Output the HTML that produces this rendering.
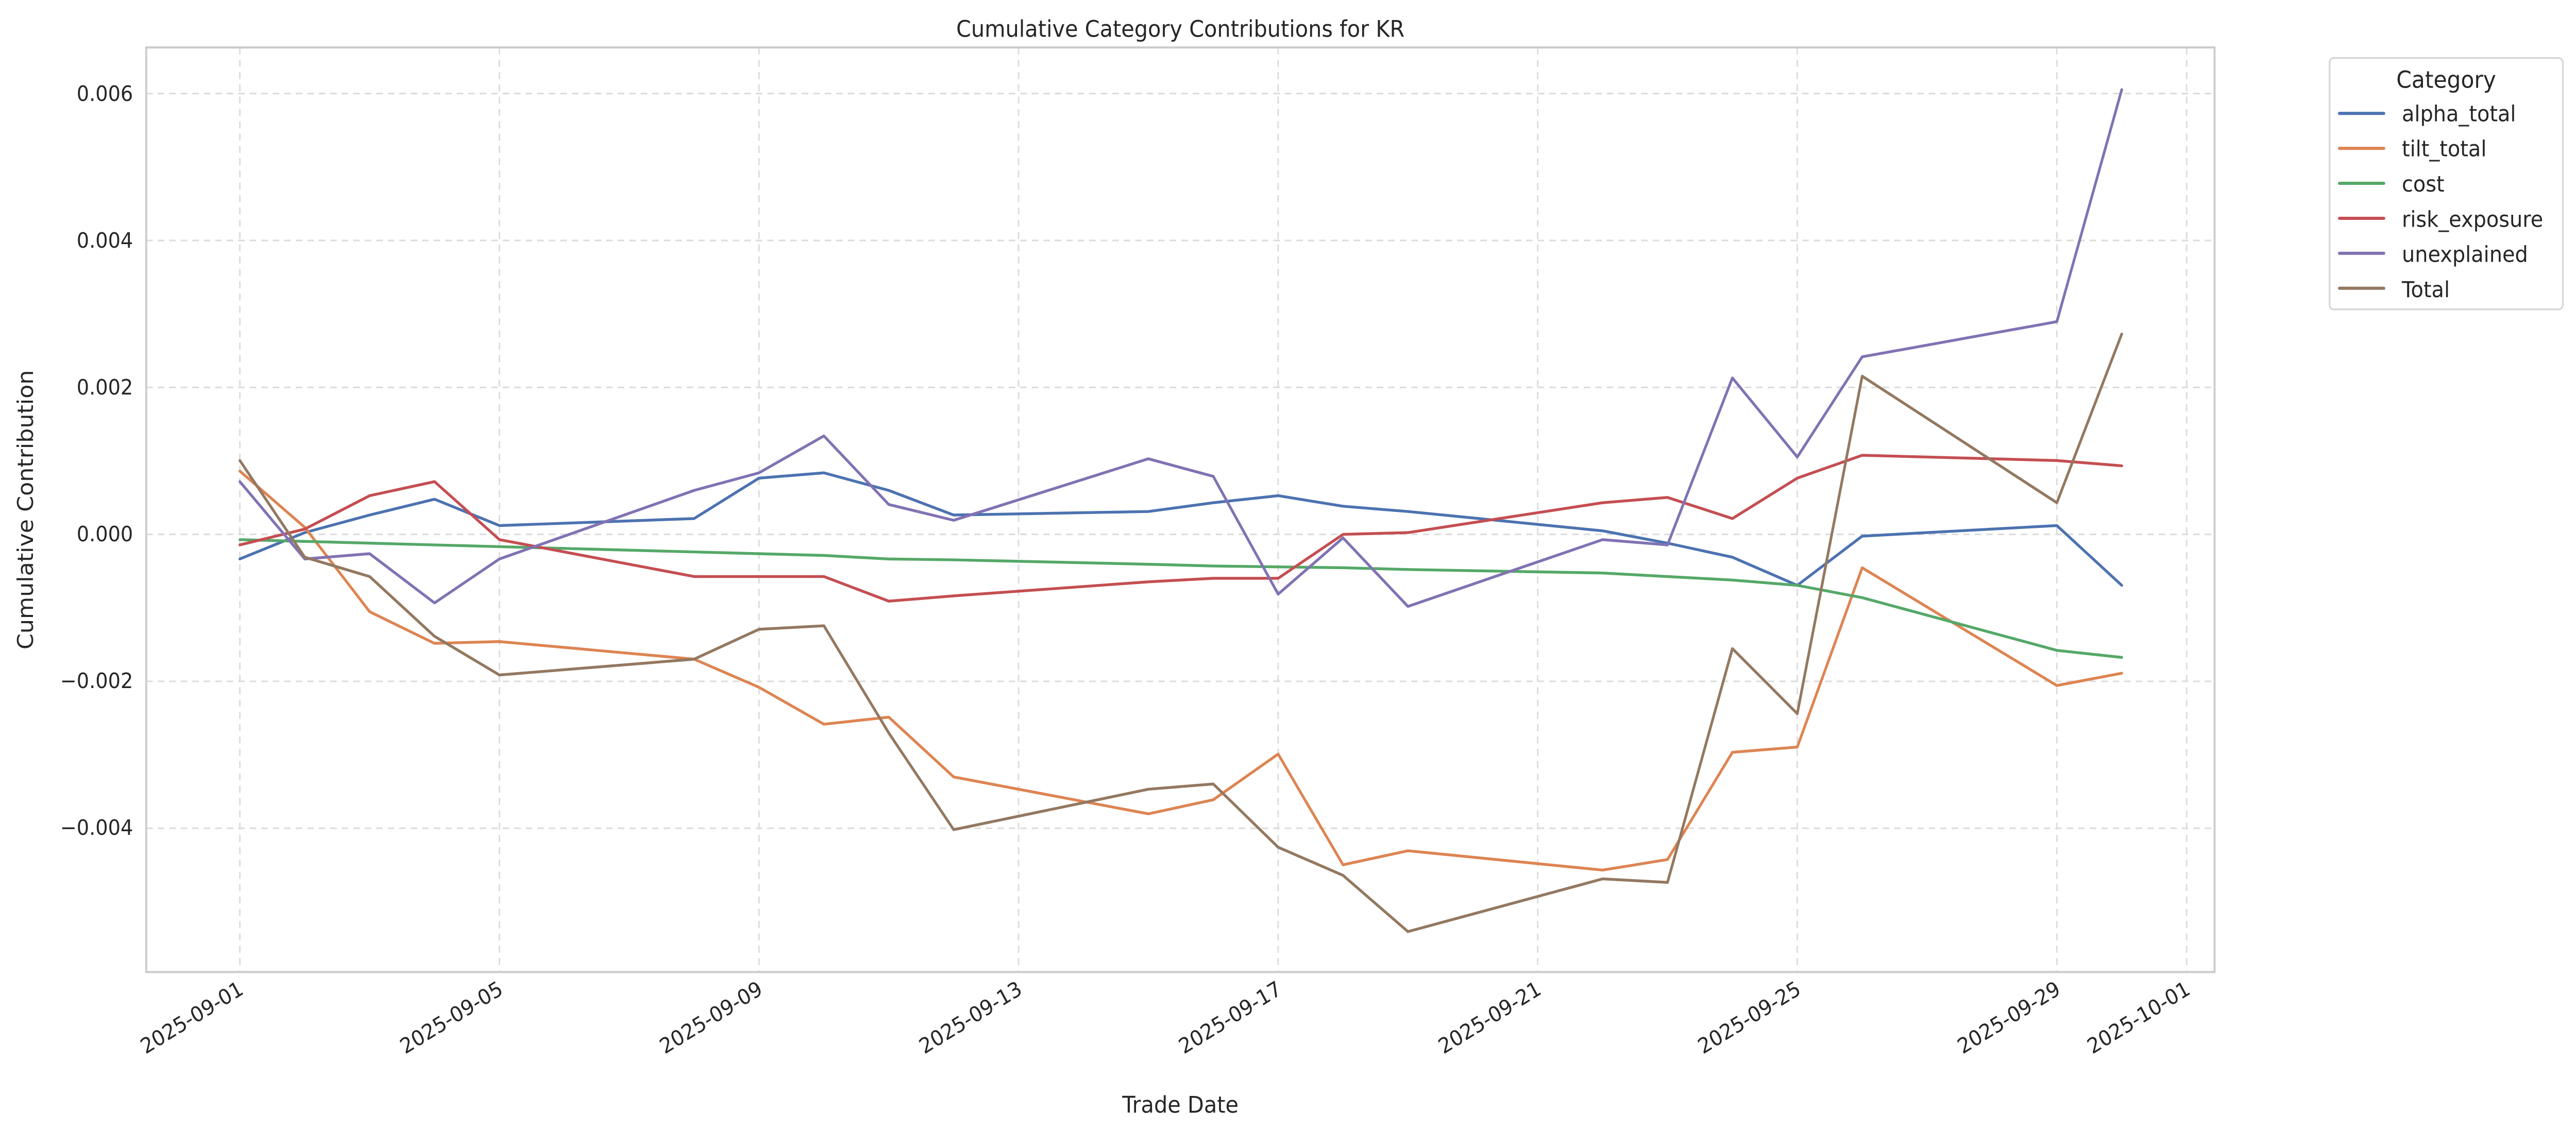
<!DOCTYPE html>
<html><head><meta charset="utf-8"><style>html,body{margin:0;padding:0;background:#fff;overflow:hidden;width:100%;height:100%}svg{display:block;width:100vw;height:100vh}</style></head>
<body>
<svg xmlns="http://www.w3.org/2000/svg" viewBox="0 0 1568 644" preserveAspectRatio="none" font-family="DejaVu Sans, Liberation Sans, sans-serif" fill="#262626">
<rect width="1568" height="644" fill="#fff"/>
<g stroke="#dcdcdc" stroke-width="0.9" stroke-dasharray="4,3" fill="none">
<line x1="89" x2="1348" y1="53.2" y2="53.2"/>
<line x1="89" x2="1348" y1="136.8" y2="136.8"/>
<line x1="89" x2="1348" y1="220.4" y2="220.4"/>
<line x1="89" x2="1348" y1="304" y2="304"/>
<line x1="89" x2="1348" y1="387.6" y2="387.6"/>
<line x1="89" x2="1348" y1="471.2" y2="471.2"/>
<line y1="27" y2="553" x1="146" x2="146"/>
<line y1="27" y2="553" x1="304" x2="304"/>
<line y1="27" y2="553" x1="462" x2="462"/>
<line y1="27" y2="553" x1="620" x2="620"/>
<line y1="27" y2="553" x1="778" x2="778"/>
<line y1="27" y2="553" x1="936" x2="936"/>
<line y1="27" y2="553" x1="1094" x2="1094"/>
<line y1="27" y2="553" x1="1252" x2="1252"/>
<line y1="27" y2="553" x1="1331" x2="1331"/>
</g>
<rect x="89" y="27" width="1259" height="526" fill="none" stroke="#cccccc" stroke-width="1.2"/>
<g fill="none" stroke-width="1.6" stroke-linejoin="round" stroke-linecap="round">
<polyline stroke="#4c72b0" points="146,318 185.5,303 225,293 264.5,284 304,299 422.5,295 462,272 501.5,269 541,279 580.5,293 699,291 738.5,286 778,282 817.5,288 857,291 975.5,302 1015,309 1054.5,317 1094,333 1133.5,305 1252,299 1291.5,333"/>
<polyline stroke="#dd8452" points="146,268 185.5,300 225,348 264.5,366 304,365 422.5,375 462,391 501.5,412 541,408 580.5,442 699,463 738.5,455 778,429 817.5,492 857,484 975.5,495 1015,489 1054.5,428 1094,425 1133.5,323 1252,390 1291.5,383"/>
<polyline stroke="#55a868" points="146,307 185.5,308 225,309 264.5,310 304,311 422.5,314 462,315 501.5,316 541,318 580.5,318.5 699,321 738.5,322 778,322.5 817.5,323 857,324 975.5,326 1015,328 1054.5,330 1094,333 1133.5,340 1252,370 1291.5,374"/>
<polyline stroke="#c44e52" points="146,310 185.5,301 225,282 264.5,274 304,307 422.5,328 462,328 501.5,328 541,342 580.5,339 699,331 738.5,329 778,329 817.5,304 857,303 975.5,286 1015,283 1054.5,295 1094,272 1133.5,259 1252,262 1291.5,265"/>
<polyline stroke="#8172b3" points="146,274 185.5,318 225,315 264.5,343 304,318 422.5,279 462,269 501.5,248 541,287 580.5,296 699,261 738.5,271 778,338 817.5,306 857,345 975.5,307 1015,310 1054.5,215 1094,260 1133.5,203 1252,183 1291.5,51"/>
<polyline stroke="#937860" points="146,262 185.5,317 225,328 264.5,362 304,384 422.5,375 462,358 501.5,356 541,417 580.5,472 699,449 738.5,446 778,482 817.5,498 857,530 975.5,500 1015,502 1054.5,369 1094,406 1133.5,214 1252,286 1291.5,190"/>
</g>
<g font-size="12" text-anchor="end">
<text x="81" y="57.5">0.006</text>
<text x="81" y="141">0.004</text>
<text x="81" y="224.5">0.002</text>
<text x="81" y="308">0.000</text>
<text x="81" y="391.5">−0.002</text>
<text x="81" y="475">−0.004</text>
</g>
<g font-size="12" text-anchor="end">
<text transform="translate(149,565) rotate(-30)">2025-09-01</text>
<text transform="translate(307,565) rotate(-30)">2025-09-05</text>
<text transform="translate(465,565) rotate(-30)">2025-09-09</text>
<text transform="translate(623,565) rotate(-30)">2025-09-13</text>
<text transform="translate(781,565) rotate(-30)">2025-09-17</text>
<text transform="translate(939,565) rotate(-30)">2025-09-21</text>
<text transform="translate(1097,565) rotate(-30)">2025-09-25</text>
<text transform="translate(1255,565) rotate(-30)">2025-09-29</text>
<text transform="translate(1334,565) rotate(-30)">2025-10-01</text>
</g>
<text x="718.5" y="21" font-size="13" text-anchor="middle">Cumulative Category Contributions for KR</text>
<text x="718.5" y="633" font-size="13" text-anchor="middle">Trade Date</text>
<text transform="translate(20,290) rotate(-90)" font-size="13" text-anchor="middle">Cumulative Contribution</text>
<rect x="1418" y="33" width="142" height="143" rx="2.5" fill="#fff" stroke="#d6d6d6" stroke-width="1"/>
<text x="1489" y="50" font-size="13.3" text-anchor="middle">Category</text>
<g stroke-width="1.8" stroke-linecap="round">
<line x1="1424" x2="1451" y1="64.5" y2="64.5" stroke="#4c72b0"/>
<line x1="1424" x2="1451" y1="84.4" y2="84.4" stroke="#dd8452"/>
<line x1="1424" x2="1451" y1="104.3" y2="104.3" stroke="#55a868"/>
<line x1="1424" x2="1451" y1="124.2" y2="124.2" stroke="#c44e52"/>
<line x1="1424" x2="1451" y1="144.1" y2="144.1" stroke="#8172b3"/>
<line x1="1424" x2="1451" y1="164" y2="164" stroke="#937860"/>
</g>
<g font-size="12.5">
<text x="1462" y="69">alpha_total</text>
<text x="1462" y="89">tilt_total</text>
<text x="1462" y="109">cost</text>
<text x="1462" y="129">risk_exposure</text>
<text x="1462" y="149">unexplained</text>
<text x="1462" y="169">Total</text>
</g>
</svg>
</body></html>
